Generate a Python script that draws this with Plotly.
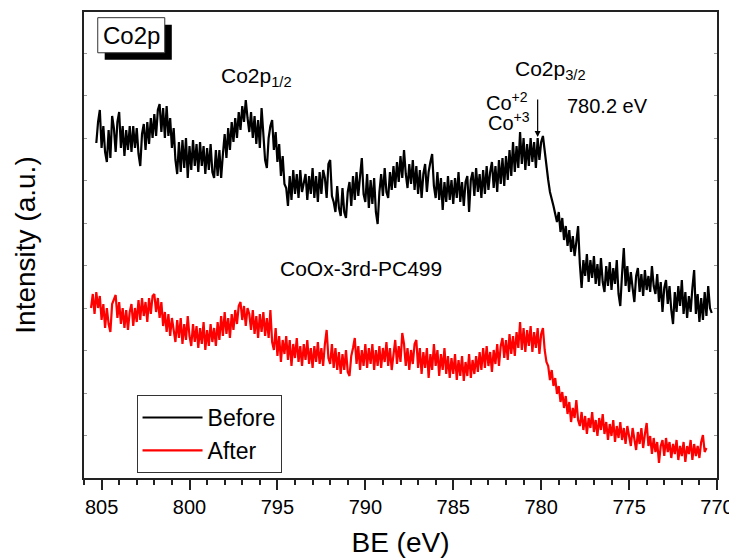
import numpy as np
import plotly.graph_objects as go

# Binding energy grids (eV), 0.1 eV step
black_start, red_start, be_step = 805.3, 805.6, 0.1

# Intensity (a.u.)
before = [
335,356,368,330,352,326,316,348,320,362,
350,326,356,366,330,352,322,348,328,352,
326,352,330,350,324,312,344,354,328,356,
334,360,340,364,342,368,374,346,370,340,
372,342,360,330,350,318,304,336,306,338,
310,340,300,332,308,338,312,334,306,336,
312,332,304,330,308,334,306,300,328,302,
328,300,324,344,320,350,328,356,336,360,
340,366,348,372,356,378,360,346,366,340,
362,334,358,330,370,340,318,310,340,352,
358,328,346,316,334,302,322,294,290,272,
302,278,308,284,304,280,308,286,296,304,
278,302,284,310,280,302,276,306,284,308,
300,280,314,318,282,276,266,292,270,262,
290,266,260,286,296,272,302,278,306,282,
302,320,284,276,304,270,298,274,300,266,
254,286,304,282,310,286,280,306,288,312,
290,316,296,322,300,328,304,290,314,294,
318,288,312,284,308,280,304,314,286,306,
316,324,292,280,306,278,300,268,296,276,
302,278,298,274,300,280,306,276,296,272,
296,302,266,298,306,282,310,286,304,280,
308,284,312,288,306,316,290,312,286,318,
294,320,292,322,298,328,302,336,306,332,
310,346,314,340,308,334,312,340,316,336,
310,340,318,336,342,326,310,298,286,280,
272,264,256,266,246,260,238,252,232,248,
226,242,222,236,252,214,190,218,202,224,
196,218,200,222,194,214,192,220,196,186,
212,192,216,188,210,194,218,184,172,204,
230,192,212,186,206,190,176,202,210,186,
204,182,208,188,202,186,212,192,184,204,
176,196,166,190,198,174,192,168,154,186,
166,192,172,198,164,186,160,182,166,190,
208,164,184,156,180,158,186,162,192,170,
165]

after = [
170,184,164,186,170,182,158,174,150,170,
154,146,174,178,183,160,176,154,170,150,
168,148,166,174,152,170,156,178,158,180,
162,176,156,180,164,182,184,166,180,160,
176,152,166,146,164,142,160,148,136,158,
140,160,134,154,138,162,142,132,154,136,
152,130,150,134,156,128,148,132,154,136,
150,132,156,138,162,142,166,144,160,140,
164,148,168,154,172,176,158,172,152,170,
164,148,168,144,162,140,164,146,166,142,
160,140,168,136,128,150,122,142,116,138,
124,142,118,138,112,134,120,140,116,132,
112,134,118,138,114,130,110,132,116,136,
114,130,112,134,148,120,114,134,110,130,
108,126,104,124,108,128,106,102,122,130,
140,114,132,108,128,112,134,110,130,114,
134,108,128,112,132,110,130,116,136,112,
130,108,126,138,114,132,116,145,134,112,
130,108,128,114,134,138,110,130,104,126,
110,130,100,124,108,134,112,128,102,124,
108,130,104,122,100,120,104,124,98,118,
102,122,97,116,102,124,100,118,104,122,
106,126,108,130,110,132,112,126,106,128,
114,134,112,132,140,120,138,118,144,124,
142,122,146,130,156,128,150,126,148,132,
152,126,146,130,150,124,144,150,128,116,
112,98,108,92,100,84,92,76,86,70,
82,64,76,56,70,60,78,58,52,66,
48,62,44,60,50,66,46,58,42,60,
48,64,44,56,38,54,42,58,36,52,
40,56,38,50,34,52,42,32,50,38,
28,46,34,50,30,44,55,32,42,24,
40,26,36,15,32,38,22,40,26,36,
20,34,24,38,18,32,22,36,16,32,
24,38,18,34,22,32,20,36,43,26,
30]

be_before = np.round(black_start - be_step * np.arange(len(before)), 2)
be_after = np.round(red_start - be_step * np.arange(len(after)), 2)

peak_be = 780.2
peak_int = 341

FONT = "Liberation Sans, Arial, sans-serif"

fig = go.Figure()
fig.add_trace(go.Scatter(x=be_before, y=before, mode="lines", name="Before",
                         line=dict(color="#000000", width=2.2)))
fig.add_trace(go.Scatter(x=be_after, y=after, mode="lines", name="After",
                         line=dict(color="#ff0000", width=2.2)))

# the page body adds an 8 px offset, so the figure is sized 8 px smaller
fig.update_layout(
    width=729, height=551,
    margin=dict(l=76, r=20, t=4, b=81, autoexpand=False),
    paper_bgcolor="white", plot_bgcolor="white",
    font=dict(family=FONT, color="#000000"),
    showlegend=True,
    legend=dict(x=0.083, y=0.178, xanchor="left", yanchor="top",
                bgcolor="white", bordercolor="#333333", borderwidth=1,
                font=dict(size=23, family=FONT), itemwidth=60,
                tracegroupgap=0),
    xaxis=dict(range=[806, 770], tick0=770, dtick=5, ticks="outside",
               ticklen=10, tickwidth=1.5, tickcolor="#222222",
               showline=True, linecolor="#222222", linewidth=1.5,
               mirror=True, showgrid=False, zeroline=False, automargin=False,
               tickfont=dict(size=20, family=FONT),
               minor=dict(dtick=1, ticks="outside", ticklen=5,
                          tickwidth=1.5, tickcolor="#222222", showgrid=False),
               title=dict(text="BE (eV)", font=dict(size=28, family=FONT),
                          standoff=16)),
    yaxis=dict(range=[0, 466], tick0=0, dtick=42.5, ticks="inside",
               ticklen=3, tickwidth=1, tickcolor="#999999",
               showticklabels=False, showline=True, linecolor="#222222",
               linewidth=1.5, mirror="ticks", showgrid=False, zeroline=False,
               automargin=False,
               title=dict(text="Intensity (a.u.)",
                          font=dict(size=28, family=FONT), standoff=38)),
)

# "Co2p" framed label with shadow
fig.add_shape(type="rect", xref="paper", yref="paper",
              x0=0.0327, x1=0.1387, y0=0.8975, y1=0.9727,
              fillcolor="#000000", line=dict(width=0))
fig.add_shape(type="rect", xref="paper", yref="paper",
              x0=0.0217, x1=0.1276, y0=0.9125, y1=0.9878,
              fillcolor="white", line=dict(color="#333333", width=1))

ann = [
    dict(text="Co2p", x=0.0746, y=0.9501, xanchor="center", yanchor="middle", size=24),
    dict(text="Co2p<sub>1/2</sub>", x=0.213, y=0.861, xanchor="left", yanchor="middle", size=21),
    dict(text="Co2p<sub>3/2</sub>", x=0.6774, y=0.876, xanchor="left", yanchor="middle", size=21),
    dict(text="Co<sup>+2</sup>", x=0.7048, y=0.807, xanchor="right", yanchor="middle", size=20),
    dict(text="Co<sup>+3</sup>", x=0.7079, y=0.766, xanchor="right", yanchor="middle", size=20),
    dict(text="780.2 eV", x=0.8273, y=0.7988, xanchor="center", yanchor="middle", size=20),
    dict(text="CoOx-3rd-PC499", x=0.4383, y=0.4506, xanchor="center", yanchor="middle", size=21),
]
for a in ann:
    fig.add_annotation(text=a["text"], xref="paper", yref="paper", x=a["x"], y=a["y"],
                       xanchor=a["xanchor"], yanchor=a["yanchor"], showarrow=False,
                       font=dict(size=a["size"], family=FONT, color="#000000"))

# Arrow pointing at the 780.2 eV peak
fig.add_annotation(x=peak_be, y=peak_int, xref="x", yref="y", text="",
                   showarrow=True, ax=0, ay=-39, arrowhead=2, arrowsize=1,
                   arrowwidth=1.2, arrowcolor="#000000")

fig.write_html("out.html")
